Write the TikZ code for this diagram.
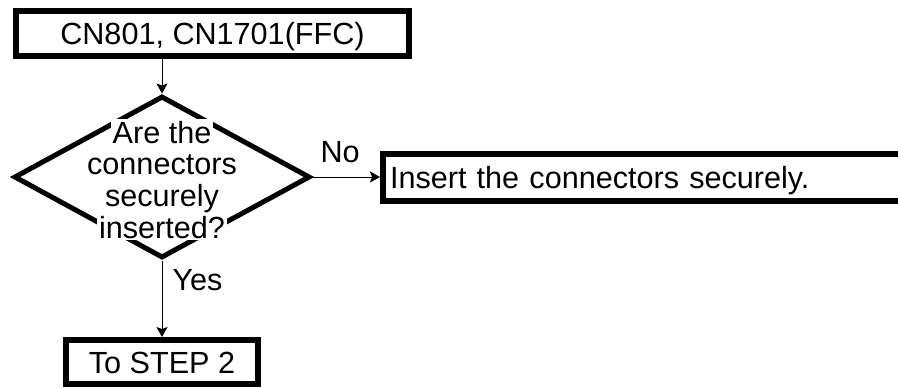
\documentclass[tikz,border=0pt]{standalone}
\usepackage{fontspec}
\setmainfont{Liberation Sans}
\usetikzlibrary{shapes.geometric,arrows.meta}

\begin{document}
\begin{tikzpicture}[x=0.5pt, y=-0.5pt, font=\fontsize{15.3}{18}\selectfont,
    flowbox/.style={draw, line width=3pt, inner xsep=3.5pt, inner ysep=0pt, text height=11pt, text depth=0pt},
    decision/.style={draw, diamond, line width=2.5pt, inner sep=0pt, minimum width=148pt, minimum height=81pt},
    qline/.style={fill=white, inner sep=1pt, anchor=base},
    arr/.style={line width=0.5pt, -{Stealth[length=5pt, width=5.5pt, inset=1pt]}},
    lbl/.style={inner sep=0pt}]
  \useasboundingbox (0,0) rectangle (898,388);
  \clip (0,0) rectangle (898,388);

  % boxes
  \node[flowbox, minimum width=196.5pt, minimum height=22.5pt] (cnbox) at (212.5,33.5) {CN801, CN1701(FFC)};
  \node[flowbox, anchor=west, minimum height=23.5pt, text width=260pt, align=left] (insertbox) at (380,177.5) {Insert the connectors securely.};
  \node[flowbox, minimum width=96pt, minimum height=22pt] (stepbox) at (162,362) {To STEP 2};

  % decision
  \node[decision] (check) at (162,177) {};
  \foreach \txt [count=\i] in {Are the, connectors, securely, inserted?}
    \node[qline] (q\i) at (162,{143+(\i-1)*31.7}) {\txt};

  % connectors
  \draw[arr] (check.north |- cnbox.south) -- (check.north);
  \draw[arr] (check.east) -- node[lbl, pos=0.41, anchor=base, yshift=7.5pt] (no) {No} (check.east -| insertbox.west);
  \draw[arr] (check.south) -- node[lbl, pos=0.39, anchor=base west, xshift=5pt] (yes) {Yes} (stepbox.north);
\end{tikzpicture}
\end{document}
